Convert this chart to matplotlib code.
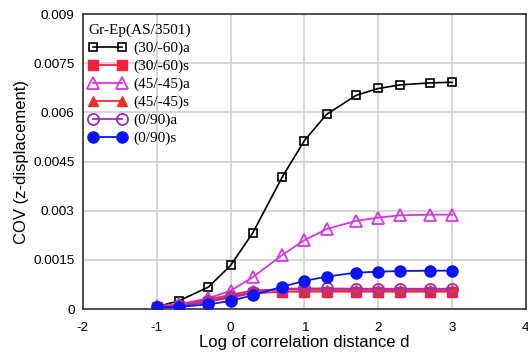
import matplotlib
matplotlib.use("Agg")
import matplotlib.pyplot as plt

x = [-1, -0.7, -0.3, 0, 0.3, 0.7, 1, 1.3, 1.7, 2, 2.3, 2.7, 3]
cov_30_60_a = [0.00007, 0.00025, 0.00067, 0.00133, 0.00232, 0.00403, 0.00514, 0.00594, 0.00652, 0.00673, 0.00684, 0.00690, 0.00692]
cov_30_60_s = [0.00005, 0.00008, 0.00022, 0.00035, 0.00048, 0.00053, 0.00053, 0.00053, 0.00053, 0.00053, 0.00053, 0.00053, 0.00053]
cov_45_45_a = [0.00009, 0.00015, 0.00033, 0.00056, 0.00097, 0.00165, 0.00210, 0.00244, 0.00269, 0.00279, 0.00286, 0.00288, 0.00288]
cov_45_45_s = [0.00006, 0.00010, 0.00030, 0.00043, 0.00057, 0.00060, 0.00059, 0.00058, 0.00058, 0.00058, 0.00058, 0.00058, 0.00058]
cov_0_90_a = [0.00005, 0.00008, 0.00025, 0.00038, 0.00052, 0.00062, 0.00063, 0.00063, 0.00062, 0.00062, 0.00062, 0.00062, 0.00062]
cov_0_90_s = [0.00005, 0.00007, 0.00014, 0.00025, 0.00042, 0.00068, 0.00086, 0.00099, 0.00111, 0.00114, 0.00116, 0.00117, 0.00117]

labels = ["(30/-60)a", "(30/-60)s", "(45/-45)a", "(45/-45)s", "(0/90)a", "(0/90)s"]
xticks = [-2, -1, 0, 1, 2, 3, 4]
yticks = [0, 0.0015, 0.003, 0.0045, 0.006, 0.0075, 0.009]
ytick_labels = ["0", "0.0015", "0.003", "0.0045", "0.006", "0.0075", "0.009"]

fig = plt.figure(figsize=(5.28, 3.52), dpi=100)
ax = fig.add_axes([0.157, 0.122, 0.839, 0.838])

styles = [
    dict(color="black", marker="s", mfc="none", ms=5.5, mew=1.2, lw=1.2),
    dict(color="#f5203c", marker="s", mfc="#f5203c", ms=7, lw=1.3),
    dict(color="#d535e6", marker="^", mfc="none", ms=8, mew=1.3, lw=1.3),
    dict(color="#e8322a", marker="^", mfc="#e8322a", ms=7.5, lw=1.3),
    dict(color="#a52cb5", marker="o", mfc="none", ms=8, mew=1.3, lw=1.3),
    dict(color="#0a14f5", marker="o", mfc="#0a14f5", ms=8, lw=1.3),
]
series = [cov_30_60_a, cov_30_60_s, cov_45_45_a, cov_45_45_s, cov_0_90_a, cov_0_90_s]
for ys, lab, st in zip(series, labels, styles):
    ax.plot(x, ys, label=lab, **st, zorder=3)

ax.set_xlim(-2, 4)
ax.set_ylim(0, 0.009)
ax.set_xticks(xticks)
ax.set_xticklabels([str(t) for t in xticks])
ax.set_yticks(yticks)
ax.set_yticklabels(ytick_labels)
ax.grid(True, color="#d0d0d0", lw=1.2, zorder=0)
ax.set_axisbelow(True)
ax.tick_params(length=0, labelsize=9.7)
ax.tick_params(axis="x", pad=9)
ax.tick_params(axis="y", pad=6)
for lab in ax.get_xticklabels() + ax.get_yticklabels():
    lab.set_family("Liberation Sans")
for sp in ax.spines.values():
    sp.set_color("#333333")
    sp.set_linewidth(1.2)

ax.set_xlabel("Log of correlation distance d", fontsize=12, family="Liberation Sans", labelpad=1)
ax.set_ylabel("COV (z-displacement)", fontsize=12, family="Liberation Sans", labelpad=3)

leg = ax.legend(title="Gr-Ep(AS/3501)", loc="upper left", frameon=False, numpoints=2,
                prop={"family": "Liberation Serif", "size": 11}, handlelength=2.5,
                handletextpad=0.45, labelspacing=0.27, borderaxespad=0.25,
                bbox_to_anchor=(-0.01, 1.0))
leg.get_title().set_family("Liberation Serif")
leg.get_title().set_fontsize(11)
leg._legend_box.align = "left"

fig.savefig("out.png", dpi=100)
